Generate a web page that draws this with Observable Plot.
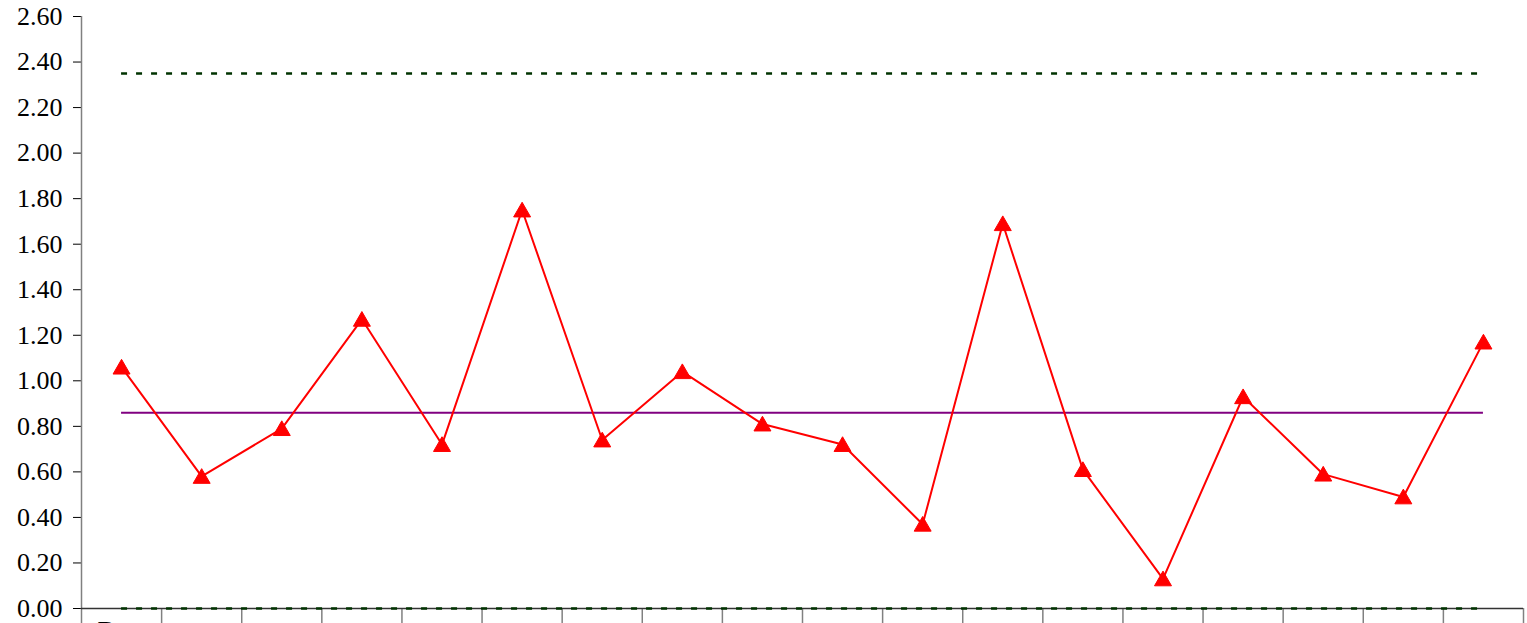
<!DOCTYPE html>
<html><head><meta charset="utf-8">
<script src="https://cdn.jsdelivr.net/npm/d3@7"></script>
<script src="https://cdn.jsdelivr.net/npm/@observablehq/plot@0.6"></script>
<style>
html,body{margin:0;padding:0;background:#fff;overflow:hidden;}
svg{display:block;}
</style>
</head><body><div id="chart"></div>
<script>
// Data
const samples = [1,2,3,4,5,6,7,8,9,10,11,12,13,14,15,16,17,18];
const values = [1.06,0.58,0.79,1.27,0.72,1.75,0.74,1.04,0.81,0.72,0.37,1.69,0.61,0.13,0.93,0.59,0.49,1.17];
const centerLine = 0.86;
const upperLimit = 2.35;
const lowerLimit = 0.00;
const yTicks = [0,0.2,0.4,0.6,0.8,1.0,1.2,1.4,1.6,1.8,2.0,2.2,2.4,2.6];
const categoryTitle = "Date";

const pts = samples.map((s, i) => ({sample: s, pos: i + 0.5, value: values[i]}));
const firstPos = pts[0].pos, lastPos = pts[pts.length - 1].pos;
const boundaries = d3.range(0, samples.length + 1);

const chart = Plot.plot({
  width: 1527,
  height: 623,
  marginLeft: 81,
  marginRight: 4,
  marginTop: 16,
  marginBottom: 15,
  style: {fontFamily: "'Liberation Serif', 'Times New Roman', serif", fontSize: "26px", color: "#000", background: "#fff", overflow: "hidden"},
  x: {domain: [0, samples.length], axis: null, label: null},
  y: {domain: [0, 2.6], axis: null, label: null},
  marks: [
    Plot.axisY(yTicks, {label: null, tickSize: 8, tickPadding: 11, tickFormat: d3.format(".2f"), fontSize: 26, stroke: "#000", fill: "#000"}),
    Plot.axisX(boundaries, {label: null, tickSize: 15, tickFormat: () => "", stroke: "#808080", strokeWidth: 1.5}),
    Plot.ruleX([0], {stroke: "#808080", strokeWidth: 1.5}),
    Plot.ruleY([0], {stroke: "#333", strokeWidth: 1.5}),
    Plot.text([categoryTitle], {x: () => 0, y: () => 0, dx: 16, dy: 12, textAnchor: "start", lineAnchor: "top", fontSize: 26, fill: "#000"}),
    Plot.ruleY([upperLimit], {x1: firstPos, x2: lastPos, stroke: "#003300", strokeWidth: 2.5, strokeDasharray: "6,9"}),
    Plot.ruleY([lowerLimit], {x1: firstPos, x2: lastPos, stroke: "#003300", strokeWidth: 2.5, strokeDasharray: "6,9"}),
    Plot.ruleY([centerLine], {x1: firstPos, x2: lastPos, stroke: "#800080", strokeWidth: 2}),
    Plot.line(pts, {x: "pos", y: "value", stroke: "#ff0000", strokeWidth: 2}),
    Plot.dot(pts, {x: "pos", y: "value", symbol: "triangle", r: 6.3, fill: "#ff0000", stroke: "#ff0000", strokeWidth: 1, dy: 2})
  ]
});
document.getElementById("chart").append(chart);
</script>
</body></html>
